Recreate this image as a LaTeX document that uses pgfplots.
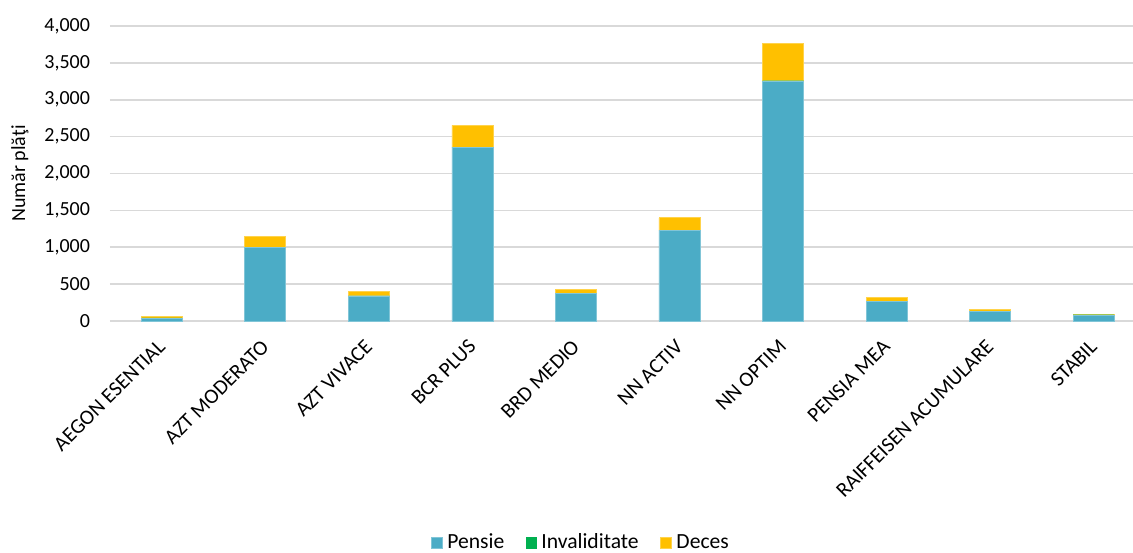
\documentclass[border=0pt]{standalone}
\usepackage{pgfplots}
\pgfplotsset{compat=1.18}
\usepackage{fontspec}
\setmainfont{Carlito}
\definecolor{cPensie}{HTML}{4BACC6}
\definecolor{cInv}{HTML}{00B050}
\definecolor{cDeces}{HTML}{FFC000}
\definecolor{cGrid}{HTML}{D9D9D9}
\begin{document}
\begin{tikzpicture}
\begin{axis}[
  at={(0,0)}, anchor=south west,
  scale only axis,
  width=511.5pt, height=147.5pt,
  ybar stacked,
  bar width=20.5pt,
  xmin=-0.5, xmax=9.38,
  ymin=0, ymax=4000,
  ytick={0,500,...,4000},
  xtick={0,...,9},
  xticklabels={AEGON ESENTIAL,AZT MODERATO,AZT VIVACE,BCR PLUS,BRD MEDIO,NN ACTIV,NN OPTIM,PENSIA MEA,RAIFFEISEN ACUMULARE,STABIL},
  xticklabel style={rotate=45, anchor=north east, inner sep=0pt, xshift=-7.8pt, yshift=-4.2pt, font=\fontsize{10.5}{12}\selectfont},
  yticklabel style={xshift=-6.5pt},
  major tick length=0pt,
  axis line style={draw=none},
  ymajorgrids,
  grid style={cGrid, line width=0.8pt},
  tick label style={text=black},
  yticklabel style={font=\fontsize{10}{12}\selectfont},
  /pgf/number format/.cd, 1000 sep={,}, assume math mode=true,
  /pgfplots/.cd,
  ylabel={Număr plăţi},
  ylabel style={font=\fontsize{10}{12}\selectfont, at={(axis description cs:-0.088,0.5)}, anchor=center},
  legend style={draw=none, font=\fontsize{10.8}{12}\selectfont, at={(rel axis cs:0.4615,-0.7525)}, anchor=center, legend columns=3, nodes={inner xsep=2.2pt}, /tikz/every even column/.append style={column sep=8.5pt}},
  legend image code/.code={\fill[#1] (0pt,-2.8pt) rectangle (5.6pt,2.8pt);},
]
\addplot[fill=cPensie, draw=cPensie!70!white, line width=0.4pt] coordinates {
  (0,40) (1,993) (2,340) (3,2352) (4,373) (5,1222) (6,3247) (7,268) (8,125) (9,80)};
\addlegendentry{Pensie}
\addplot[fill=cInv, draw=none] coordinates {
  (0,2) (1,3) (2,2) (3,5) (4,2) (5,4) (6,12) (7,2) (8,2) (9,5)};
\addlegendentry{Invaliditate}
\addplot[fill=cDeces, draw=cDeces!70!white, line width=0.4pt] coordinates {
  (0,15) (1,150) (2,58) (3,294) (4,52) (5,174) (6,507) (7,45) (8,25) (9,5)};
\addlegendentry{Deces}
\end{axis}
\pgfresetboundingbox
\useasboundingbox (-55pt,-115.5pt) rectangle (511.5pt,160.5pt);
\end{tikzpicture}
\end{document}
